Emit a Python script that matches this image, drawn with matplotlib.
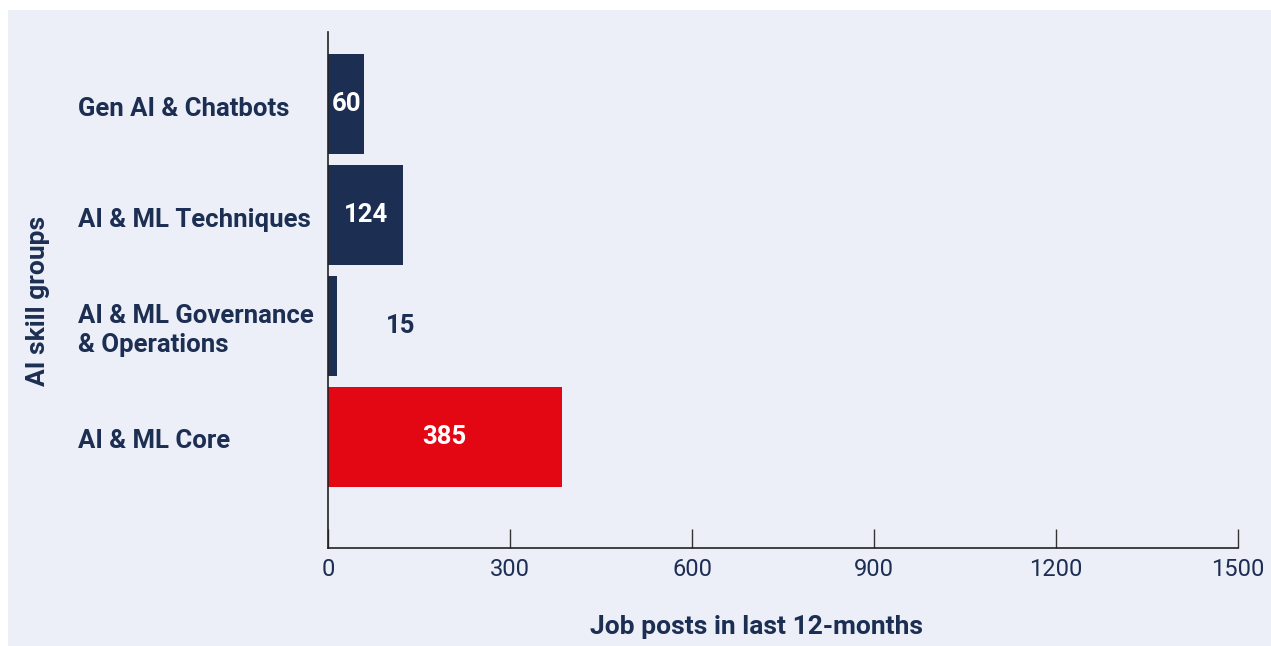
import matplotlib.pyplot as plt
from matplotlib.patches import Rectangle
from matplotlib.transforms import blended_transform_factory

# data, top to bottom as shown
groups = ["Gen AI & Chatbots", "AI & ML Techniques", "AI & ML Governance\n& Operations", "AI & ML Core"]
posts = [60, 124, 15, 385]
bar_colors = ["#1c2e52", "#1c2e52", "#1c2e52", "#e30613"]
label_inside = [True, True, False, True]
xticks = [0, 300, 600, 900, 1200, 1500]

navy = "#1c2e52"
bg = "#eceff7"

plt.rcParams["font.family"] = ["Roboto", "DejaVu Sans"]

W, H = 1271, 646
fig = plt.figure(figsize=(W / 100, H / 100), dpi=100)
fig.patch.set_facecolor("white")
fig.add_artist(Rectangle((8 / W, 0), 1 - 8 / W, 1 - 10 / H,
                         transform=fig.transFigure, facecolor=bg, edgecolor="none", zorder=-10))

ax = fig.add_axes([328 / W, 1 - 548 / H, (1238 - 328) / W, (548 - 32) / H])
ax.set_facecolor("none")

ypos = list(range(len(groups)))[::-1]
ax.barh(ypos, posts, height=0.9, color=bar_colors)
ax.set_xlim(0, 1500)
ax.set_ylim(-1, 3.65)

for y, v, inside in zip(ypos, posts, label_inside):
    if inside:
        ax.text(v / 2, y, str(v), ha="center", va="center", color="white",
                fontsize=18.5, fontweight="bold")
    else:
        ax.text(v + 105, y, str(v), ha="center", va="center", color=navy,
                fontsize=18.5, fontweight="bold")

# category labels, left aligned in the margin
lab_tr = blended_transform_factory(fig.transFigure, ax.transData)
for y, g in zip(ypos, groups):
    ax.text(78 / W, y - 0.04, g, transform=lab_tr, ha="left", va="center", color=navy,
            fontsize=18.5, fontweight="bold", linespacing=1.3)

ax.set_yticks([])
ax.set_xticks(xticks)
ax.set_xticklabels([str(t) for t in xticks])
ax.tick_params(axis="x", direction="in", length=14, width=1, color="#333333",
               labelsize=17, labelcolor=navy, pad=7)
for s in ["top", "right"]:
    ax.spines[s].set_visible(False)
for s in ["left", "bottom"]:
    ax.spines[s].set_color("#222222")
    ax.spines[s].set_linewidth(1.2)

fig.text(757 / W, 1 - 627 / H, "Job posts in last 12-months", ha="center", va="center",
         color=navy, fontsize=19, fontweight="bold")
fig.text(38 / W, 1 - 301 / H, "AI skill groups", ha="center", va="center", rotation=90,
         color=navy, fontsize=19, fontweight="bold")

fig.savefig("out.png", dpi=100)
